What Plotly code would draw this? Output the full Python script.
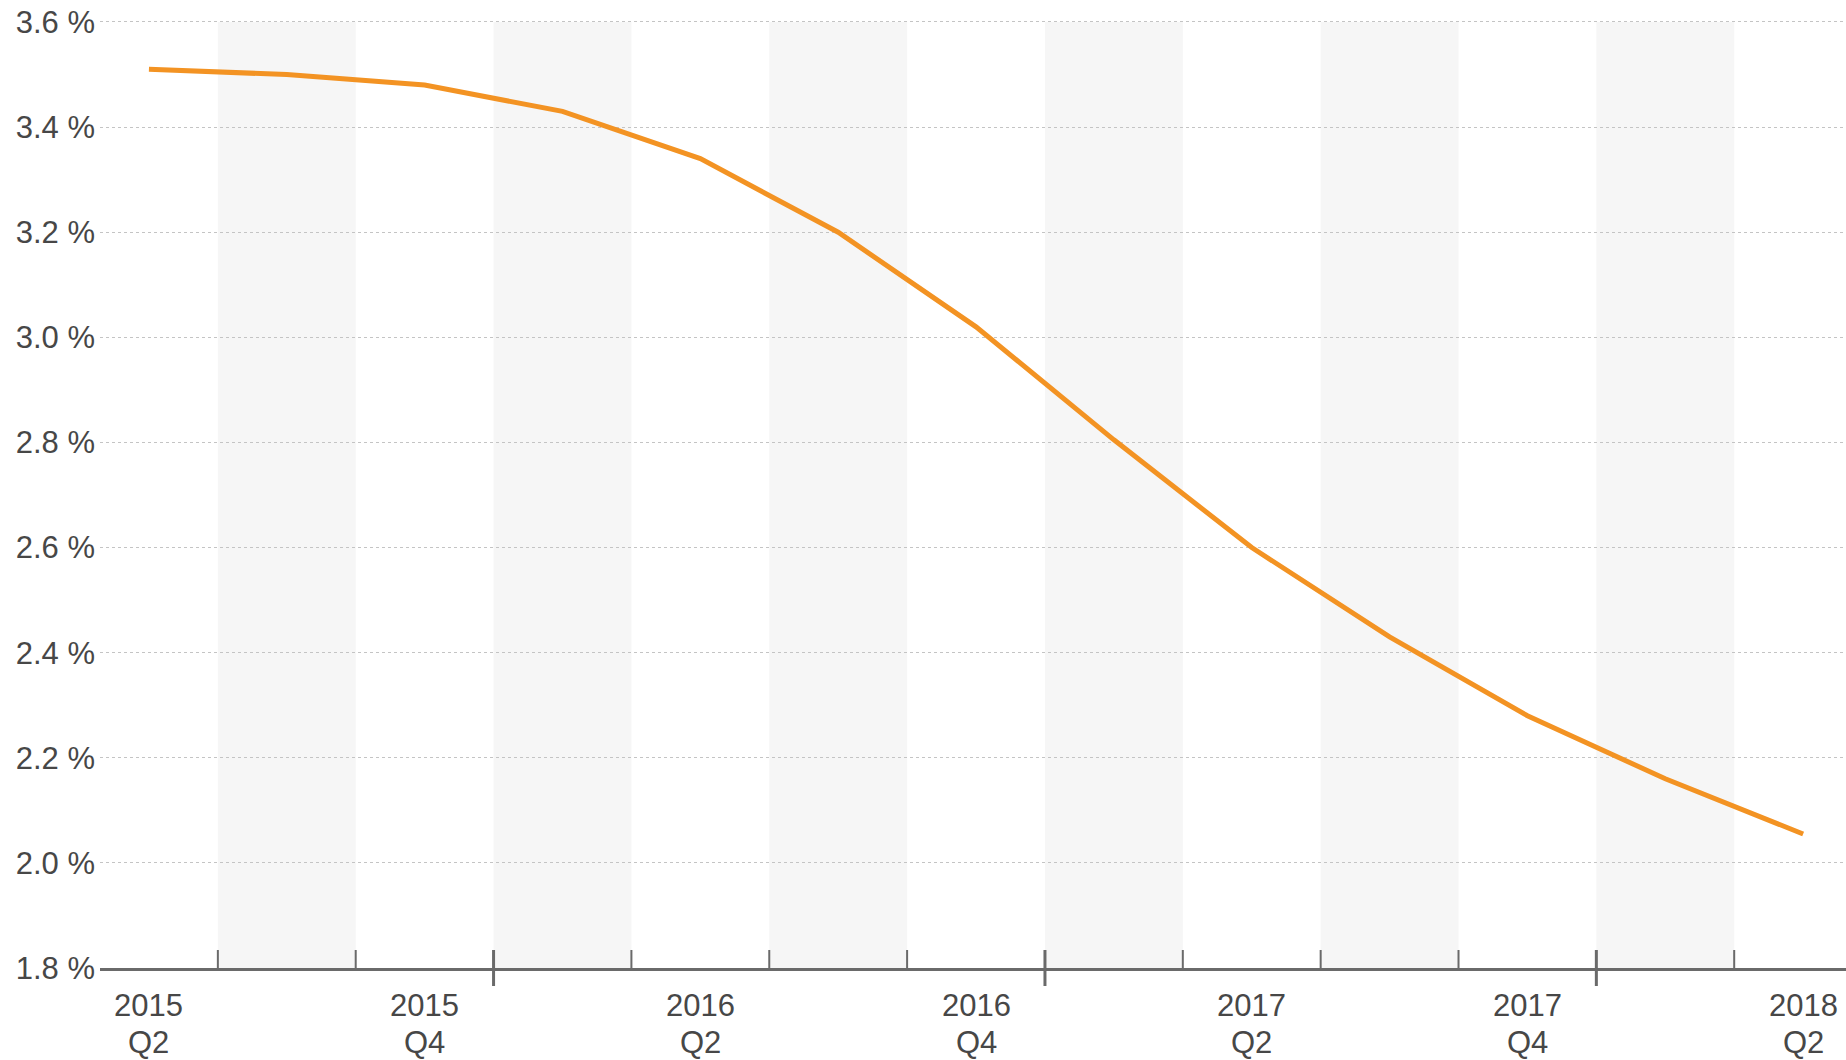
import plotly.graph_objects as go

# ---- data ----
years = ["2015", "2015", "2015", "2016", "2016", "2016", "2016",
         "2017", "2017", "2017", "2017", "2018", "2018"]
quarters = ["Q2", "Q3", "Q4", "Q1", "Q2", "Q3", "Q4",
            "Q1", "Q2", "Q3", "Q4", "Q1", "Q2"]
rate = [3.51, 3.50, 3.48, 3.43, 3.34, 3.20, 3.02,
        2.805, 2.60, 2.43, 2.28, 2.16, 2.055]
y_ticks = [1.8, 2.0, 2.2, 2.4, 2.6, 2.8, 3.0, 3.2, 3.4, 3.6]
y_tick_labels = ["1.8 %", "2.0 %", "2.2 %", "2.4 %", "2.6 %",
                 "2.8 %", "3.0 %", "3.2 %", "3.4 %", "3.6 %"]

idx = list(range(len(rate)))
AXIS_COL = "#6a6a6a"
TEXT_COL = "#474747"
FONT = "Arial, Liberation Sans, sans-serif"
FS = 31

fig = go.Figure()
fig.add_trace(go.Scatter(
    x=idx, y=rate, mode="lines",
    line=dict(color="#f39323", width=5),
    hoverinfo="skip", showlegend=False,
))

shapes = []
# alternating shaded quarter bands (Q1 and Q3)
for i, q in enumerate(quarters):
    if q in ("Q1", "Q3"):
        shapes.append(dict(type="rect", xref="x", yref="y",
                           x0=i - 0.5, x1=i + 0.5,
                           y0=y_ticks[0], y1=y_ticks[-1],
                           fillcolor="#f6f6f6", line=dict(width=0),
                           layer="below"))
# tick marks at quarter boundaries, crossing ones at year boundaries
for i in range(len(quarters) - 1):
    major = quarters[i + 1] == "Q1"
    shapes.append(dict(type="line", xref="x", yref="paper",
                       ysizemode="pixel", yanchor=0,
                       x0=i + 0.5, x1=i + 0.5,
                       y0=-18 if major else 0, y1=18,
                       line=dict(color=AXIS_COL, width=3 if major else 2),
                       layer="above"))

annotations = []
for i, q in enumerate(quarters):
    if q in ("Q2", "Q4"):
        annotations.append(dict(x=i, y=0, xref="x", yref="paper",
                                text=years[i], showarrow=False,
                                xanchor="center", yanchor="middle",
                                yshift=-37,
                                font=dict(family=FONT, size=FS, color=TEXT_COL)))
        annotations.append(dict(x=i, y=0, xref="x", yref="paper",
                                text=q, showarrow=False,
                                xanchor="center", yanchor="middle",
                                yshift=-74,
                                font=dict(family=FONT, size=FS, color=TEXT_COL)))

fig.update_layout(
    width=1846, height=1060,
    margin=dict(l=100, r=0, t=18, b=92),
    paper_bgcolor="white", plot_bgcolor="white",
    font=dict(family=FONT, size=FS, color=TEXT_COL),
    shapes=shapes,
    annotations=annotations,
    xaxis=dict(
        range=[-0.355, 12.311],
        showticklabels=False, automargin=False,
        showgrid=False, zeroline=False,
        showline=True, linecolor=AXIS_COL, linewidth=3,
        ticks="",
    ),
    yaxis=dict(
        range=[1.8, 3.6076],
        tickmode="array", tickvals=y_ticks, ticktext=y_tick_labels,
        automargin=False, ticklabeloverflow="allow",
        showgrid=True, gridcolor="#c4c4c4", gridwidth=1, griddash="dot",
        zeroline=False, showline=False, ticks="",
        ticklabelstandoff=4,
        tickfont=dict(family=FONT, size=FS, color=TEXT_COL),
    ),
)

# remove the default 8px page margin so the figure fills the window exactly
fig.write_html("out.html",
               config={"displayModeBar": False},
               post_script="document.body.style.margin='0';"
                           "document.body.style.overflow='hidden';")
